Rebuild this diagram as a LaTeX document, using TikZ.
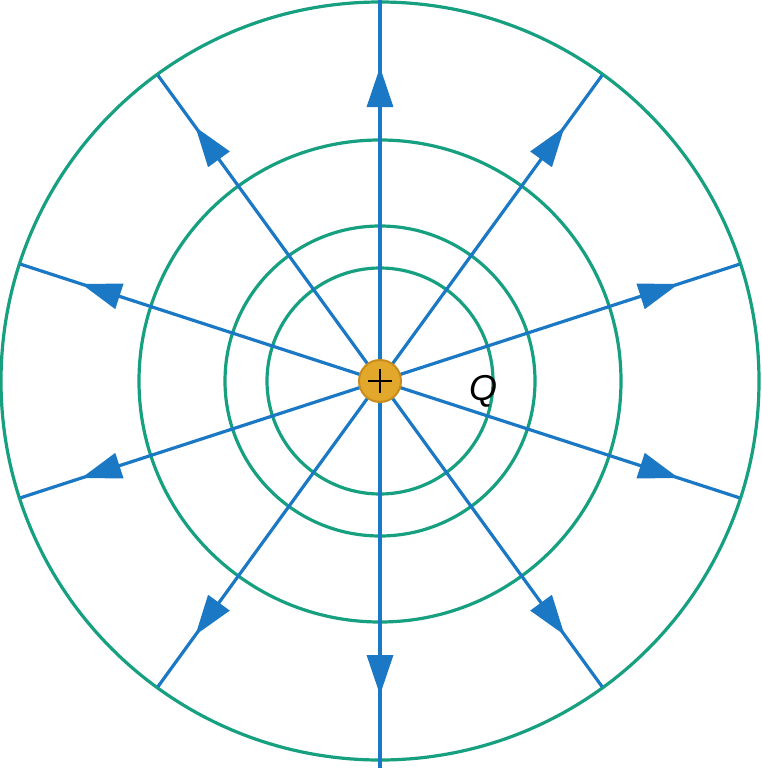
\documentclass[tikz,border=0pt]{standalone}
\usepackage{fontspec}
\setmainfont{Liberation Sans}
\usetikzlibrary{decorations.markings,arrows.meta,calc}
\definecolor{fieldblue}{RGB}{27,120,196}
\definecolor{equigreen}{RGB}{22,160,128}
\definecolor{chargegold}{RGB}{226,168,44}
\definecolor{chargeedge}{RGB}{200,140,28}
\tikzset{
  equi/.style={draw=equigreen,line width=3.2pt},
  ray/.style={draw=fieldblue,line width=3.2pt,
    postaction={decorate},
    decoration={markings,mark=at position 314pt with {\arrow[fieldblue]{Triangle[length=40pt,width=26pt]}}}},
  charge/.style={fill=chargegold,draw=chargeedge,line width=2pt},
}
\begin{document}
\begin{tikzpicture}[x=1pt,y=-1pt]
\useasboundingbox (0,0) rectangle (761,768);
\coordinate (c) at (380,381);
% equipotential circles
\draw[equi] (c) circle (113);
\draw[equi] (c) circle (155);
\draw[equi] (c) circle (241);
\draw[equi] (c) circle (379);
% ray end points
\coordinate (eU) at (380,0);
\coordinate (eD) at (380,768);
\foreach \a/\n in {54/a,18/b,-18/d,-54/e,-126/g,-162/h,162/i,126/j}{
  \coordinate (e\n) at ($(c)+(\a:378)$);
}
\draw[ray] (c) -- (eU);
\draw[ray] (c) -- (eD);
\foreach \n in {a,b,d,e,g,h,i,j}{
  \draw[ray] (c) -- (e\n);
}
% charge
\path[charge] (c) circle (21);
\draw[line width=2.5pt,black] ($(c)+(-12,0)$) -- ($(c)+(12,0)$);
\draw[line width=2.5pt,black] ($(c)+(0,-12)$) -- ($(c)+(0,12)$);
\node[font=\itshape\fontsize{36}{40}\selectfont] (lq) at (483,391) {Q};
\end{tikzpicture}
\end{document}
